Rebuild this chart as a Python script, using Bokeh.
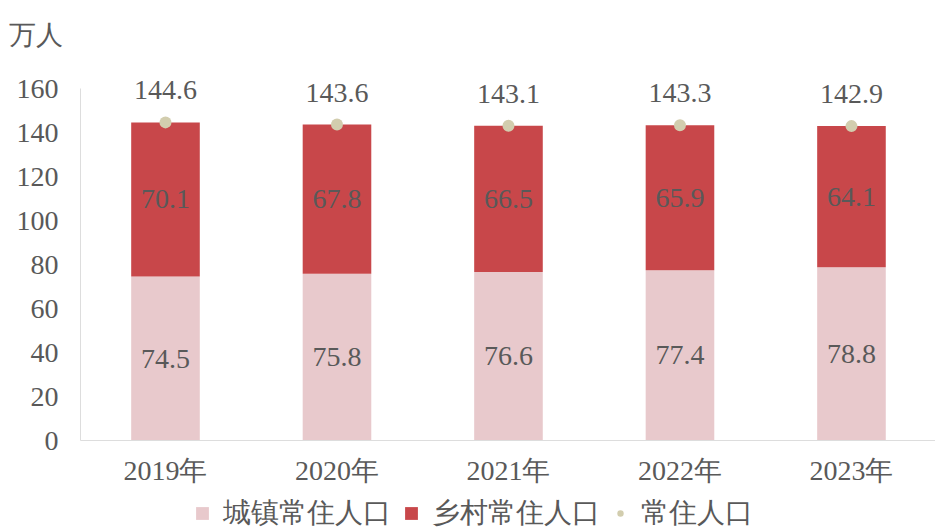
from bokeh.plotting import figure
from bokeh.layouts import column
from bokeh.models import ColumnDataSource, Range1d, Legend, LegendItem, FixedTicker
from bokeh.core.properties import value
from bokeh.embed import file_html
from bokeh.resources import INLINE

years = ["2019年", "2020年", "2021年", "2022年", "2023年"]
urban = [74.5, 75.8, 76.6, 77.4, 78.8]
rural = [70.1, 67.8, 66.5, 65.9, 64.1]
total = [144.6, 143.6, 143.1, 143.3, 142.9]
y_ticks = [0, 20, 40, 60, 80, 100, 120, 140, 160]

FONT = "Liberation Serif"
TXT = "#595959"
PINK = "#E8C9CC"
RED = "#C8474A"
DOT = "#D2CDAE"
FS = "28px"

x = list(range(len(years)))
src = ColumnDataSource(dict(
    x=x,
    urban=urban,
    rural=rural,
    total=total,
    rural_top=[u + r for u, r in zip(urban, rural)],
    urban_mid=[u / 2 for u in urban],
    rural_mid=[u + r / 2 for u, r in zip(urban, rural)],
    urban_lbl=[f"{v:.1f}" for v in urban],
    rural_lbl=[f"{v:.1f}" for v in rural],
    total_lbl=[f"{v:.1f}" for v in total],
))

p = figure(width=935, height=496, output_backend="svg", toolbar_location=None,
           x_range=Range1d(-0.4956, 4.49), y_range=Range1d(0, 175),
           min_border_left=80, min_border_right=0, min_border_top=55, min_border_bottom=56)
p.outline_line_color = None
p.grid.grid_line_color = None

r1 = p.vbar(x="x", bottom=0, top="urban", width=0.4, source=src, fill_color=PINK, line_color=None)
r2 = p.vbar(x="x", bottom="urban", top="rural_top", width=0.4, source=src, fill_color=RED, line_color=None)
r3 = p.scatter(x="x", y="total", source=src, size=12, fill_color=DOT, line_color=None)

for ycol, tcol, off in (("urban_mid", "urban_lbl", 0), ("rural_mid", "rural_lbl", 0), ("total", "total_lbl", -32)):
    p.text(x="x", y=ycol, text=tcol, source=src, text_align="center", text_baseline="middle",
           y_offset=off, text_font=value(FONT), text_font_size=FS, text_color=TXT)

p.xaxis.ticker = FixedTicker(ticks=x)
p.xaxis.major_label_overrides = {i: y for i, y in zip(x, years)}
p.yaxis.ticker = FixedTicker(ticks=y_ticks)
p.yaxis.bounds = (0, 160)
for ax in (p.xaxis[0], p.yaxis[0]):
    ax.axis_line_color = "#DDDDDD"
    ax.major_tick_line_color = None
    ax.minor_tick_line_color = None
    ax.major_label_text_font = FONT
    ax.major_label_text_font_size = FS
    ax.major_label_text_color = TXT
p.xaxis.major_label_standoff = 8
p.yaxis.major_label_standoff = 16

p.title.text = "万人"
p.title.text_font = FONT
p.title.text_font_size = "27px"
p.title.text_font_style = "normal"
p.title.text_color = TXT
p.title.align = "left"
p.title.offset = -72
p.title.standoff = 11

# legend strip (its glyphs sit far outside the visible range; only the legend shows)
lg = figure(width=935, height=36, output_backend="svg", toolbar_location=None,
            x_range=Range1d(1000, 1001), y_range=Range1d(1000, 1001),
            min_border=0, x_axis_location=None, y_axis_location=None)
lg.outline_line_color = None
lg.grid.grid_line_color = None
l1 = lg.vbar(x="x", bottom=0, top="urban", width=0.4, source=src, fill_color=PINK, line_color=None)
l2 = lg.vbar(x="x", bottom="urban", top="rural_top", width=0.4, source=src, fill_color=RED, line_color=None)
l3 = lg.scatter(x="x", y="total", source=src, size=10, fill_color=DOT, line_color=None)

legend = Legend(items=[
    LegendItem(label="城镇常住人口", renderers=[l1]),
    LegendItem(label="乡村常住人口", renderers=[l2]),
    LegendItem(label="常住人口", renderers=[l3]),
], orientation="horizontal", location=(114, 0),
    label_text_font=FONT, label_text_font_size=FS, label_text_color=TXT,
    glyph_width=16, glyph_height=16, spacing=12, label_standoff=13,
    border_line_color=None, padding=0, margin=0, background_fill_alpha=0)
lg.add_layout(legend)

layout = column(p, lg, spacing=0)
open("out.html", "w").write(file_html(layout, INLINE))
